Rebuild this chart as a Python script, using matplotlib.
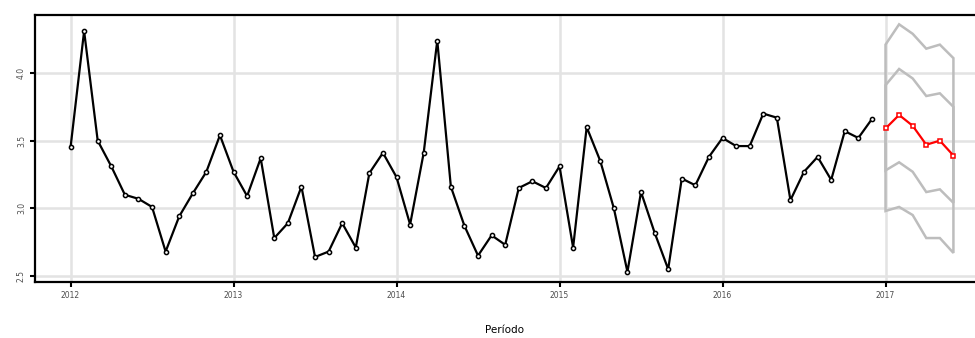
import matplotlib

matplotlib.use("Agg")
import matplotlib.pyplot as plt
import numpy as np

# monthly series 2012-01 .. 2016-12
observed = [
    3.45, 4.31, 3.50, 3.31, 3.10, 3.07, 3.01, 2.68, 2.94, 3.11, 3.27, 3.54,
    3.27, 3.09, 3.37, 2.78, 2.89, 3.16, 2.64, 2.68, 2.89, 2.71, 3.26, 3.41,
    3.23, 2.88, 3.41, 4.24, 3.16, 2.87, 2.65, 2.80, 2.73, 3.15, 3.20, 3.15,
    3.31, 2.71, 3.60, 3.35, 3.00, 2.53, 3.12, 2.82, 2.55, 3.22, 3.17, 3.38,
    3.52, 3.46, 3.46, 3.70, 3.67, 3.06, 3.27, 3.38, 3.21, 3.57, 3.52, 3.66,
]
# forecast 2017-01 .. 2017-06
forecast = [3.59, 3.69, 3.61, 3.47, 3.50, 3.39]
upper95 = [4.21, 4.36, 4.29, 4.18, 4.21, 4.11]
upper80 = [3.91, 4.03, 3.96, 3.83, 3.85, 3.75]
lower80 = [3.28, 3.34, 3.27, 3.12, 3.14, 3.04]
lower95 = [2.98, 3.01, 2.95, 2.78, 2.78, 2.67]

year_ticks = [2012, 2013, 2014, 2015, 2016, 2017]
y_ticks = [2.5, 3.0, 3.5, 4.0]
x_title = "Período"

t_obs = 2012 + np.arange(len(observed)) / 12
t_fc = 2017 + np.arange(len(forecast)) / 12

fig = plt.figure(figsize=(9.75, 3.38), dpi=100)
ax = fig.add_axes([35 / 975, 1 - 282 / 338, 940 / 975, 267 / 338])

ax.grid(True, color="#e3e3e3", linewidth=1.8)
ax.set_axisbelow(True)

band = "#bdbdbd"
ax.fill(np.r_[t_fc, t_fc[::-1]], np.r_[upper95, lower95[::-1]],
        facecolor="none", edgecolor=band, linewidth=1.8)
ax.fill(np.r_[t_fc, t_fc[::-1]], np.r_[upper80, lower80[::-1]],
        facecolor="none", edgecolor=band, linewidth=1.8)

ax.plot(t_obs, observed, color="black", linewidth=1.6,
        marker="o", markersize=3, markerfacecolor="white", markeredgewidth=1.1)
ax.plot(t_fc, forecast, color="red", linewidth=1.6,
        marker="s", markersize=3, markerfacecolor="white", markeredgewidth=1.1)

ax.set_xlim(2011.782, 2017.549)
ax.set_ylim(2.455, 4.429)
ax.set_xticks(year_ticks)
ax.set_xticklabels([str(y) for y in year_ticks], fontsize=5.5, color="#4d4d4d")
ax.set_yticks(y_ticks)
ax.set_yticklabels([f"{v:.1f}" for v in y_ticks], fontsize=5.5, color="#4d4d4d",
                   rotation=90, va="center")
ax.tick_params(direction="out", length=3.5, width=1.5, color="black", pad=3)

for side in ["left", "bottom", "top"]:
    ax.spines[side].set_linewidth(1.6)
    ax.spines[side].set_color("black")
ax.spines["right"].set_visible(False)

ax.set_xlabel(x_title, fontsize=7.5, labelpad=18, color="black")

fig.savefig("out.png", dpi=100)
